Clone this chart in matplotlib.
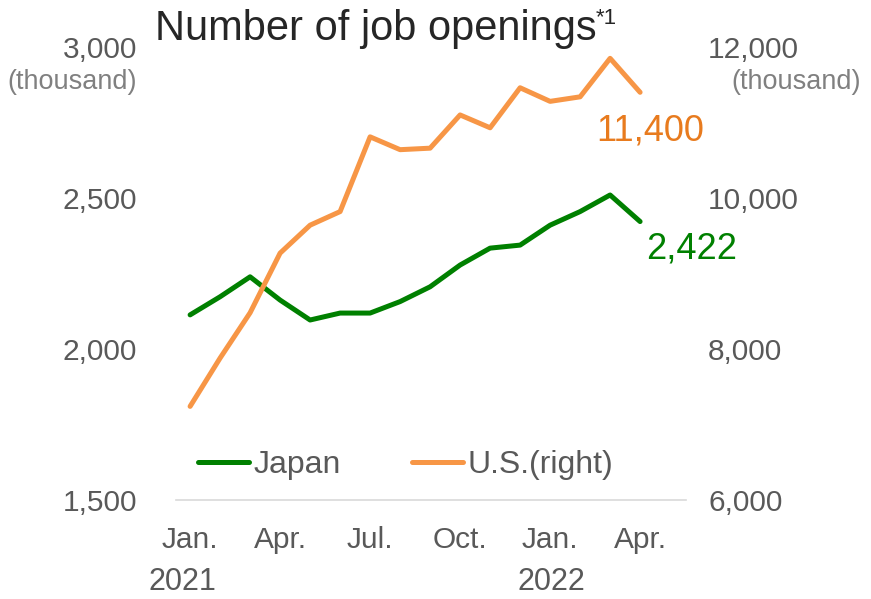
"""
Number of job openings: Japan (left axis) vs U.S. (right axis), monthly
"""
import matplotlib
matplotlib.use("Agg")
import matplotlib.pyplot as plt
from matplotlib.lines import Line2D

plt.rcParams["font.family"] = ["Liberation Sans", "DejaVu Sans"]

# monthly, Jan. 2021 .. Apr. 2022 (thousand)
meses = list(range(16))
japao = [2113, 2173, 2239, 2162, 2096, 2119, 2119, 2157,
         2206, 2278, 2334, 2344, 2410, 2455, 2510, 2422]
eua = [7240, 7880, 8480, 9270, 9640, 9820, 10810, 10640,
       10660, 11100, 10930, 11460, 11280, 11340, 11850, 11400]

ticks_x = [0, 3, 6, 9, 12, 15]
rotulos_x = ["Jan.", "Apr.", "Jul.", "Oct.", "Jan.", "Apr."]
anos = [(0, "2021"), (12, "2022")]
ticks_esq = [1500, 2000, 2500, 3000]
ticks_dir = [6000, 8000, 10000, 12000]

VERDE = "#008000"
LARANJA = "#F79646"
LARANJA_TXT = "#E87B1E"
CINZA = "#595959"
CINZA_CLARO = "#808080"
FS = 21.5

W, H = 871, 599
fig = plt.figure(figsize=(W / 100, H / 100), dpi=100)
ax = fig.add_axes([176 / W, 99 / H, 510 / W, 453 / H])
ax2 = ax.twinx()

ax.plot(meses, japao, color=VERDE, linewidth=3.6, solid_joinstyle="round",
        solid_capstyle="round", zorder=3)
ax2.plot(meses, eua, color=LARANJA, linewidth=3.6, solid_joinstyle="round",
         solid_capstyle="round", zorder=3)

ax.set_xlim(-0.47, 16.53)
ax.set_ylim(1500, 3000)
ax2.set_ylim(6000, 12000)

for a in (ax, ax2):
    for s in a.spines.values():
        s.set_visible(False)
ax.spines["bottom"].set_visible(True)
ax.spines["bottom"].set_color("#D9D9D9")
ax.spines["bottom"].set_linewidth(1.2)

ax.set_xticks(ticks_x)
ax.set_xticklabels(rotulos_x)
ax.set_yticks(ticks_esq)
ax.set_yticklabels([f"{v:,}" for v in ticks_esq])
ax2.set_yticks(ticks_dir)
ax2.set_yticklabels([f"{v:,}" for v in ticks_dir])

ax.tick_params(axis="x", length=0, pad=19, labelsize=FS, labelcolor=CINZA)
ax.tick_params(axis="y", length=0, pad=28, labelsize=FS, labelcolor=CINZA)
ax2.tick_params(axis="y", length=0, pad=16, labelsize=FS, labelcolor=CINZA)

# year line under the months (shifted a bit like the original)
desloc = {"2021": -0.25, "2022": 0.05}
for x, ano in anos:
    ax.text(x + desloc[ano], -0.18, ano, transform=ax.get_xaxis_transform(),
            ha="center", va="center", fontsize=FS + 0.5, color=CINZA)

# units
fig.text(72 / W, 1 - 82 / H, "(thousand)", ha="center", va="center",
         fontsize=19.5, color=CINZA_CLARO)
fig.text(796 / W, 1 - 82 / H, "(thousand)", ha="center", va="center",
         fontsize=19.5, color=CINZA_CLARO)

# title
fig.text(155 / W, 1 - 29 / H, "Number of job openings", ha="left", va="center",
         fontsize=30, color="#262626")
fig.text(596 / W, 1 - 19 / H, "*1", ha="left", va="center",
         fontsize=16, color="#262626")

# last values
ax2.annotate(f"{eua[-1]:,}", xy=(meses[-1], eua[-1]), xytext=(7, -28),
             textcoords="offset points", ha="center", va="center",
             fontsize=26, color=LARANJA_TXT)
ax.annotate(f"{japao[-1]:,}", xy=(meses[-1], japao[-1]), xytext=(37, -20),
            textcoords="offset points", ha="center", va="center",
            fontsize=26, color=VERDE)

handles = [Line2D([], [], color=VERDE, linewidth=3.6, solid_capstyle="round"),
           Line2D([], [], color=LARANJA, linewidth=3.6, solid_capstyle="round")]
fig.legend(handles, ["Japan", "U.S.(right)"], loc="center left",
           bbox_to_anchor=(198 / W, 1 - 465 / H), ncol=2, frameon=False,
           fontsize=23, labelcolor=CINZA, handlelength=1.6, handletextpad=0.15,
           columnspacing=2.2, borderpad=0, borderaxespad=0)

fig.savefig("out.png", dpi=100)
plt.close(fig)
